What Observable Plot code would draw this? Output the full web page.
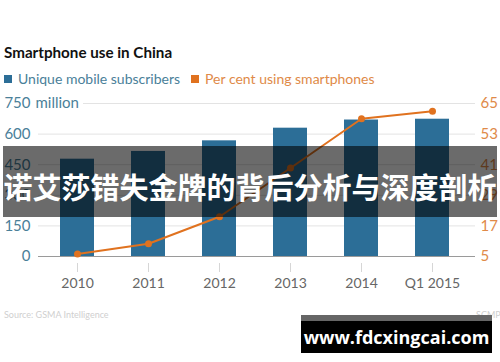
<!DOCTYPE html>
<html>
<head>
<meta charset="utf-8">
<script src="https://cdn.jsdelivr.net/npm/d3@7"></script>
<script src="https://cdn.jsdelivr.net/npm/@observablehq/plot@0.6"></script>
<style>
  html, body { margin: 0; padding: 0; }
  body { width: 500px; height: 362px; position: relative; overflow: hidden; background: #fff; font-family: Lato, "Open Sans", sans-serif; }
  #title { position: absolute; left: 4px; top: 43px; font-weight: bold; font-size: 15.2px; color: #111; white-space: nowrap; }
  #legend { position: absolute; left: 4px; top: 70px; font-size: 14px; white-space: nowrap; display: flex; align-items: center; }
  .sw { display: inline-block; width: 8px; height: 8px; margin-right: 6px; }
  #chart { position: absolute; left: 0; top: 90px; }
  #source { position: absolute; left: 4px; top: 309px; font-size: 9px; color: #cfcfcf; }
  #brand { position: absolute; left: 476px; top: 309px; font-size: 9px; color: #cfcfcf; }
  #band { position: absolute; left: 3px; top: 146px; width: 494px; height: 71px; background: rgba(0,0,0,0.58); display: flex; align-items: center; justify-content: center; }
  #band span { color: #fff; font-family: "Noto Sans CJK SC", sans-serif; font-weight: bold; font-size: 29px; white-space: nowrap; position: relative; top: 4px; }
  #wm { position: absolute; left: 301px; top: 315px; width: 191px; height: 38px; background: #000; border-top: 6px solid #666; box-sizing: border-box; display: flex; align-items: center; justify-content: center; }
  #wm span { color: #fff; font-family: "Open Sans", sans-serif; font-weight: bold; font-size: 18px; }
</style>
</head>
<body>
<div id="title">Smartphone use in China</div>
<div id="legend"></div>
<div id="chart"></div>
<div id="source">Source: GSMA Intelligence</div>
<div id="brand">SCMP</div>
<div id="band"><span>诺艾莎错失金牌的背后分析与深度剖析</span></div>
<div id="wm"><span>www.fdcxingcai.com</span></div>
<script>
const years = ["2010", "2011", "2012", "2013", "2014", "Q1 2015"];
const subscribers = [477, 515, 567, 629, 669, 673];
const smartphonePct = [6, 10, 20.6, 39.7, 59, 62];
const leftTicks = [0, 150, 300, 450, 600, 750];
const rightTicks = [5, 17, 29, 41, 53, 65];
const seriesNames = ["Unique mobile subscribers", "Per cent using smartphones"];

const blue = "#2c6e97";
const orange = "#e0721f";
const blueText = "#4a8099";
const orangeText = "#e08a48";

// legend
const legend = document.getElementById("legend");
[[seriesNames[0], blue, blueText], [seriesNames[1], orange, orangeText]].forEach(([name, c, tc], i) => {
  const sw = document.createElement("span");
  sw.className = "sw"; sw.style.background = c;
  const t = document.createElement("span");
  t.textContent = name; t.style.color = tc; t.style.marginRight = i === 0 ? "11px" : "0";
  legend.appendChild(sw); legend.appendChild(t);
});

const data = years.map((y, i) => ({year: y, subs: subscribers[i], pct: smartphonePct[i]}));
// right axis (5–65) shares the left scale (0–750)
const pctToY = p => (p - 5) * 750 / 60;

const chart = Plot.plot({
  width: 500,
  height: 215,
  marginLeft: 38,
  marginRight: 25,
  marginTop: 13,
  marginBottom: 49,
  style: {fontFamily: "Lato, 'Open Sans', sans-serif", background: "transparent"},
  x: {domain: years, paddingInner: 0.52, paddingOuter: 0.3, align: 0.46, axis: null},
  y: {domain: [0, 750], axis: null},
  marks: [
    Plot.ruleY(leftTicks.filter(d => d > 0 && d < 750), {y: d => d, stroke: "#e3e3e3", strokeWidth: 1}),
    Plot.ruleY([750], {y: d => d, stroke: "#e3e3e3", strokeWidth: 1, insetLeft: 45}),
    Plot.barY(data, {x: "year", y: "subs", fill: blue}),
    Plot.ruleY([0], {stroke: "#9a9a9a", strokeWidth: 1.2}),
    Plot.axisX({tickSize: 9, dy: 7, tickPadding: 6, stroke: "#d6d6d6", color: "#666", fontSize: 14, tickFormat: d => d, label: null}),
    Plot.line(data, {x: "year", y: d => pctToY(d.pct), stroke: orange, strokeWidth: 2}),
    Plot.dot(data, {x: "year", y: d => pctToY(d.pct), r: 3.5, fill: orange}),
    Plot.text(leftTicks, {y: d => d, text: d => String(d), frameAnchor: "left", textAnchor: "end", dx: -8, fill: blueText, fontSize: 15}),
    Plot.text([750], {y: d => d, text: d => "million", frameAnchor: "left", textAnchor: "start", dx: -3, fill: blueText, fontSize: 15}),
    Plot.text(rightTicks, {y: d => pctToY(d), text: d => String(d), frameAnchor: "right", textAnchor: "start", dx: 5, fill: orangeText, fontSize: 15})
  ]
});
document.getElementById("chart").appendChild(chart);
</script>
</body>
</html>
